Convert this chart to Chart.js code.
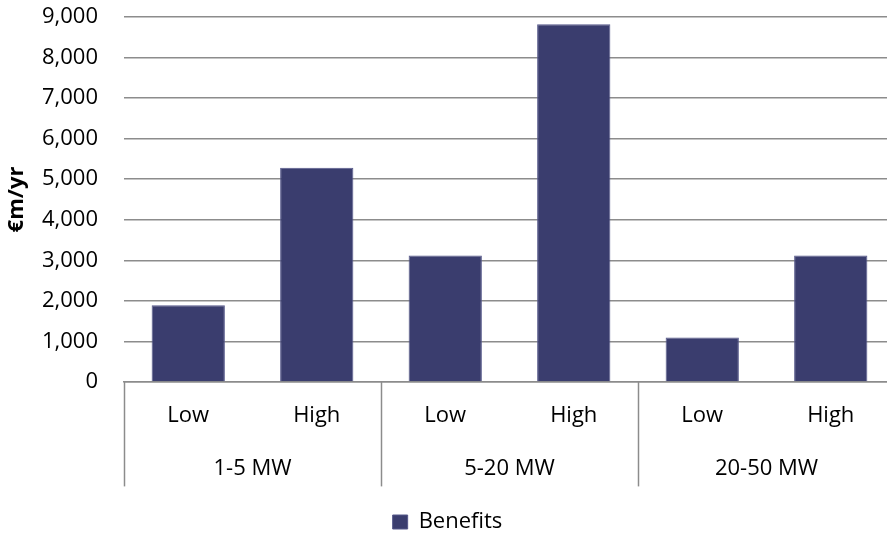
<!DOCTYPE html>
<html>
<head>
<meta charset="utf-8">
<script src="https://cdn.jsdelivr.net/npm/chart.js@4"></script>
<style>
  html, body { margin: 0; padding: 0; background: #fff; overflow: hidden; width: 887px; height: 536px; }
  #wrap { width: 895px; height: 536px; }
</style>
</head>
<body>
<div id="wrap"><canvas id="c" width="895" height="536"></canvas></div>
<script>
// Plant size bands and scenario levels
const groups = ['1-5 MW', '5-20 MW', '20-50 MW'];
const levels = ['Low', 'High'];
// Benefits in €m per year, in order: each band Low then High
const benefits = [1890, 5280, 3120, 8820, 1100, 3120];
const seriesName = 'Benefits';
const yTicks = { min: 0, max: 9000, step: 1000 };

const labels = [];
groups.forEach(() => levels.forEach(l => labels.push(l)));

const GRID = '#8c8c8c';
const BAR = '#3a3d6e';

Chart.defaults.font.family = "'Open Sans', 'DejaVu Sans', sans-serif";
Chart.defaults.color = '#000';

// Vertical separators between the size bands, through both label rows
const bandLines = {
  id: 'bandLines',
  afterDraw(chart) {
    const x2 = chart.scales.x2;
    const top = chart.chartArea.bottom;
    const bottom = x2.top + 36;
    const n = groups.length;
    const step = (x2.right - x2.left) / n;
    const ctx = chart.ctx;
    ctx.save();
    ctx.strokeStyle = GRID;
    ctx.lineWidth = 1.5;
    for (let i = 0; i <= n; i++) {
      const px = Math.round(x2.getPixelForTick(Math.min(i, n - 1)) + (i < n ? -step / 2 : step / 2)) + 0.5;
      ctx.beginPath();
      ctx.moveTo(px, top);
      ctx.lineTo(px, bottom);
      ctx.stroke();
    }
    ctx.restore();
  }
};

new Chart(document.getElementById('c'), {
  type: 'bar',
  data: {
    labels: labels,
    datasets: [{
      label: seriesName,
      data: benefits,
      backgroundColor: BAR,
      borderColor: '#55588a',
      borderWidth: 1,
      barPercentage: 0.57,
      categoryPercentage: 1.0,
      xAxisID: 'x',
      yAxisID: 'y'
    }]
  },
  options: {
    responsive: false,
    animation: false,
    layout: { padding: { top: 17, right: 0, bottom: 0, left: 0 } },
    plugins: {
      legend: {
        position: 'bottom',
        maxHeight: 28,
        labels: {
          font: { size: 22 },
          color: '#000',
          boxWidth: 15,
          boxHeight: 14,
          padding: 3
        }
      },
      tooltip: { enabled: false }
    },
    scales: {
      y: {
        min: yTicks.min,
        max: yTicks.max,
        afterFit(s) { s.width = 124; s.paddingTop = 0; s.paddingBottom = 0; },
        ticks: {
          stepSize: yTicks.step,
          padding: 26,
          font: { size: 22 },
          color: '#000',
          callback: v => Number(v).toLocaleString('en-US')
        },
        grid: { color: GRID, lineWidth: 1.5, drawTicks: false },
        border: { display: false },
        title: {
          display: true,
          text: '€m/yr',
          font: { size: 22, weight: 'bold' },
          color: '#000',
          padding: { top: 4, bottom: 0 }
        }
      },
      x: {
        position: 'bottom',
        offset: true,
        grid: { display: false, drawTicks: false },
        border: { display: true, color: GRID, width: 1.5 },
        ticks: { font: { size: 22 }, color: '#000', padding: 21, maxRotation: 0, autoSkip: false }
      },
      x2: {
        type: 'category',
        labels: groups,
        position: 'bottom',
        offset: true,
        afterFit(s) { s.height = 57.6; },
        grid: { display: false, drawTicks: false },
        border: { display: false },
        ticks: { font: { size: 22 }, color: '#000', padding: 4.8, maxRotation: 0, autoSkip: false }
      }
    }
  },
  plugins: [bandLines]
});
</script>
</body>
</html>
